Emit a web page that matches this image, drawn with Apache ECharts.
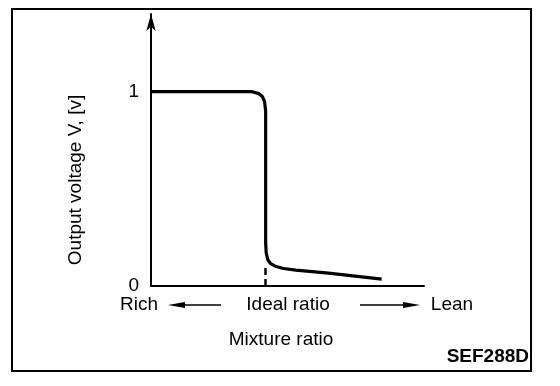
<!DOCTYPE html>
<html>
<head>
<meta charset="utf-8">
<script src="https://cdn.jsdelivr.net/npm/echarts@6/dist/echarts.min.js"></script>
<style>
html,body{margin:0;padding:0;background:#fff;}
#c{width:560px;height:386px;}
</style>
</head>
<body>
<div id="c"></div>
<script>
// Mixture ratio (arbitrary units, 0 = very rich, 100 = very lean)
const mixtureRatio = [0, 37.0, 39.5, 40.8, 41.6, 42.0, 42.0, 42.2, 42.8, 43.8, 45.5, 48.5, 53.0, 65.0, 84.5];
// Output voltage Vs [V]
const outputVoltage = [1.0, 1.0, 0.99, 0.975, 0.95, 0.9, 0.22, 0.17, 0.135, 0.115, 0.102, 0.09, 0.082, 0.066, 0.035];
const idealRatio = 42.0;
const yTickLabels = ['0', '1'];

const chart = echarts.init(document.getElementById('c'), null, {renderer: 'canvas'});
const FONT = '"Liberation Sans", Arial, Helvetica, sans-serif';

const option = {
  animation: false,
  backgroundColor: '#fff',
  grid: {left: 151, right: 136, top: 14, bottom: 100, containLabel: false},
  xAxis: {
    type: 'value', min: 0, max: 100,
    axisLine: {show: true, lineStyle: {color: '#000', width: 2}},
    axisTick: {show: false}, axisLabel: {show: false}, splitLine: {show: false}
  },
  yAxis: {
    type: 'value', min: 0, max: 1.4, interval: 1,
    axisLine: {show: true, symbol: ['none', 'arrow'], symbolSize: [7, 17], lineStyle: {color: '#000', width: 2}},
    axisTick: {show: false}, splitLine: {show: false},
    axisLabel: {
      color: '#000', fontSize: 19, fontFamily: FONT, margin: 12,
      formatter: v => (v === 0 ? yTickLabels[0] : (v === 1 ? yTickLabels[1] : ''))
    }
  },
  series: [{
    type: 'line',
    data: mixtureRatio.map((x, i) => [x, outputVoltage[i]]),
    showSymbol: false, smooth: false,
    lineStyle: {color: '#000', width: 3.2},
    markLine: {
      silent: true, symbol: 'none', label: {show: false},
      lineStyle: {color: '#000', width: 2.5, type: [7, 4]},
      data: [[{coord: [idealRatio, 0]}, {coord: [idealRatio, 0.1]}]]
    }
  }],
  graphic: [
    {type: 'rect', shape: {x: 12, y: 9, width: 519, height: 362}, style: {fill: 'none', stroke: '#000', lineWidth: 2}, z: 10},
    {type: 'text', x: 76, y: 180, rotation: Math.PI / 2, style: {text: 'Output voltage V, [v]', font: '19px ' + FONT, fill: '#000', textAlign: 'center', textVerticalAlign: 'middle'}},
    {type: 'text', x: 139, y: 305, style: {text: 'Rich', font: '19px ' + FONT, fill: '#000', textAlign: 'center', textVerticalAlign: 'middle'}},
    {type: 'line', shape: {x1: 178, y1: 305, x2: 221, y2: 305}, style: {stroke: '#000', lineWidth: 1.5}},
    {type: 'polygon', shape: {points: [[168, 305], [185, 302], [185, 308]]}, style: {fill: '#000'}},
    {type: 'text', x: 288, y: 305, style: {text: 'Ideal ratio', font: '19px ' + FONT, fill: '#000', textAlign: 'center', textVerticalAlign: 'middle'}},
    {type: 'line', shape: {x1: 360, y1: 305, x2: 410, y2: 305}, style: {stroke: '#000', lineWidth: 1.5}},
    {type: 'polygon', shape: {points: [[420, 305], [403, 302], [403, 308]]}, style: {fill: '#000'}},
    {type: 'text', x: 452, y: 305, style: {text: 'Lean', font: '19px ' + FONT, fill: '#000', textAlign: 'center', textVerticalAlign: 'middle'}},
    {type: 'text', x: 281, y: 340, style: {text: 'Mixture ratio', font: '19px ' + FONT, fill: '#000', textAlign: 'center', textVerticalAlign: 'middle'}},
    {type: 'text', x: 529, y: 357, style: {text: 'SEF288D', font: 'bold 19px ' + FONT, fill: '#000', textAlign: 'right', textVerticalAlign: 'middle'}}
  ]
};
chart.setOption(option);
</script>
</body>
</html>
